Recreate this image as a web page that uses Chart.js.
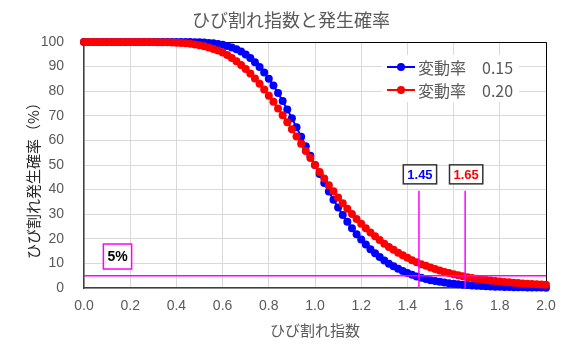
<!DOCTYPE html>
<html lang="ja">
<head>
<meta charset="utf-8">
<title>ひび割れ指数と発生確率</title>
<script src="https://cdn.jsdelivr.net/npm/chart.js@4.4.1/dist/chart.umd.min.js"></script>
<style>
  html, body { margin: 0; padding: 0; background: #fff; }
  #wrap { width: 570px; height: 352px; }
</style>
</head>
<body>
<div id="wrap"><canvas id="crackChart" width="570" height="352"></canvas></div>
<script>
// ひび割れ指数 (x) and 発生確率 (%), step 0.02
const crackIndex = [
  0.00, 0.02, 0.04, 0.06, 0.08, 0.10, 0.12, 0.14, 0.16, 0.18,
  0.20, 0.22, 0.24, 0.26, 0.28, 0.30, 0.32, 0.34, 0.36, 0.38,
  0.40, 0.42, 0.44, 0.46, 0.48, 0.50, 0.52, 0.54, 0.56, 0.58,
  0.60, 0.62, 0.64, 0.66, 0.68, 0.70, 0.72, 0.74, 0.76, 0.78,
  0.80, 0.82, 0.84, 0.86, 0.88, 0.90, 0.92, 0.94, 0.96, 0.98,
  1.00, 1.02, 1.04, 1.06, 1.08, 1.10, 1.12, 1.14, 1.16, 1.18,
  1.20, 1.22, 1.24, 1.26, 1.28, 1.30, 1.32, 1.34, 1.36, 1.38,
  1.40, 1.42, 1.44, 1.46, 1.48, 1.50, 1.52, 1.54, 1.56, 1.58,
  1.60, 1.62, 1.64, 1.66, 1.68, 1.70, 1.72, 1.74, 1.76, 1.78,
  1.80, 1.82, 1.84, 1.86, 1.88, 1.90, 1.92, 1.94, 1.96, 1.98,
  2.00
];

// 変動率 0.15
const prob015 = [
  100, 100, 100, 100, 100, 100, 100, 100, 100, 100,
  100, 100, 100, 100, 100, 100, 100, 100, 100, 100,
  100, 100, 100, 100, 99.9, 99.9, 99.8, 99.6, 99.5, 99.2,
  98.9, 98.4, 97.8, 97.1, 96.1, 94.9, 93.5, 91.8, 89.8, 87.6,
  85.1, 82.3, 79.3, 76.0, 72.6, 69.0, 65.3, 61.5, 57.6, 53.8,
  50.0, 46.3, 42.7, 39.2, 35.9, 32.7, 29.7, 26.9, 24.3, 21.9,
  19.7, 17.7, 15.8, 14.1, 12.6, 11.2, 9.9, 8.8, 7.8, 6.9,
  6.1, 5.4, 4.7, 4.2, 3.7, 3.2, 2.8, 2.5, 2.2, 1.9,
  1.7, 1.5, 1.3, 1.2, 1.0, 0.9, 0.8, 0.7, 0.6, 0.55,
  0.5, 0.4, 0.4, 0.3, 0.3, 0.3, 0.2, 0.2, 0.2, 0.2,
  0.1
];

// 変動率 0.20
const prob020 = [
  100, 100, 100, 100, 100, 100, 100, 100, 100, 100,
  100, 100, 100, 100, 100, 100, 99.9, 99.9, 99.9, 99.8,
  99.7, 99.6, 99.5, 99.3, 99.0, 98.7, 98.3, 97.8, 97.2, 96.5,
  95.7, 94.7, 93.5, 92.2, 90.7, 89.0, 87.2, 85.2, 83.0, 80.7,
  78.2, 75.7, 73.0, 70.2, 67.4, 64.5, 61.6, 58.6, 55.7, 52.8,
  50.0, 47.2, 44.5, 41.8, 39.3, 36.8, 34.5, 32.2, 30.1, 28.0,
  26.1, 24.3, 22.6, 21.0, 19.5, 18.0, 16.7, 15.5, 14.3, 13.3,
  12.3, 11.3, 10.5, 9.7, 9.0, 8.3, 7.7, 7.1, 6.5, 6.1,
  5.6, 5.2, 4.8, 4.4, 4.1, 3.8, 3.5, 3.3, 3.0, 2.8,
  2.6, 2.4, 2.3, 2.1, 2.0, 1.8, 1.7, 1.6, 1.5, 1.4,
  1.3
];

const seriesNames = ['変動率　0.15', '変動率　0.20'];
const seriesColors = ['#0000ff', '#ff0000'];

// 5% threshold and the indices where each curve crosses it
const limitPct = 5;
const limitLabel = '5%';
const crossIndex = [1.45, 1.65];
const crossLabels = ['1.45', '1.65'];
const markTopPct = 39.5;   // top of the vertical marker lines

const GRAY = '#595959';
const CJK = '"Noto Sans CJK JP", "Noto Sans", sans-serif';
const NUM = '"Liberation Sans", Arial, sans-serif';

function toPoints(ys) {
  return crackIndex.map((x, i) => ({ x: x, y: ys[i] }));
}

function boxLabel(ctx, text, cx, cy, h, textColor, borderColor, font) {
  ctx.font = font;
  const w = ctx.measureText(text).width + 8;
  ctx.fillStyle = '#fff';
  ctx.fillRect(cx - w / 2, cy - h / 2, w, h);
  ctx.strokeStyle = borderColor;
  ctx.lineWidth = 1.5;
  ctx.strokeRect(cx - w / 2, cy - h / 2, w, h);
  ctx.fillStyle = textColor;
  ctx.textAlign = 'center';
  ctx.textBaseline = 'middle';
  ctx.fillText(text, cx, cy + 1);
}

// frame lines on top / right, drawn under the curves
const framePlugin = {
  id: 'frame',
  beforeDatasetsDraw(chart) {
    const { ctx, chartArea: a } = chart;
    ctx.save();
    ctx.strokeStyle = '#000';
    ctx.lineWidth = 1;
    ctx.beginPath();
    ctx.moveTo(a.left, a.top + 0.5);
    ctx.lineTo(a.right + 0.5, a.top + 0.5);
    ctx.lineTo(a.right + 0.5, a.bottom);
    ctx.stroke();
    ctx.restore();
  }
};

// 5% line, crossing markers, labels, legend and titles
const overlayPlugin = {
  id: 'overlay',
  afterDatasetsDraw(chart) {
    const { ctx, chartArea: a, scales: { x, y } } = chart;
    ctx.save();

    ctx.strokeStyle = '#ff00ff';
    ctx.lineWidth = 1.5;
    const y5 = y.getPixelForValue(limitPct);
    ctx.beginPath();
    ctx.moveTo(x.getPixelForValue(0), y5);
    ctx.lineTo(x.getPixelForValue(2), y5);
    crossIndex.forEach((v) => {
      const px = x.getPixelForValue(v);
      ctx.moveTo(px, y.getPixelForValue(0));
      ctx.lineTo(px, y.getPixelForValue(markTopPct));
    });
    ctx.stroke();

    crossIndex.forEach((v, i) => {
      boxLabel(ctx, crossLabels[i], x.getPixelForValue(v) + 1, y.getPixelForValue(46.2),
        19, seriesColors[i], '#333', 'bold 13px ' + NUM);
    });
    boxLabel(ctx, limitLabel, x.getPixelForValue(0.145), y.getPixelForValue(12.8),
      25, '#000', '#ff00ff', 'bold 14px ' + NUM);

    // legend
    const lx = a.right - 159, ly = a.top + 25;
    ctx.fillStyle = '#fff';
    ctx.fillRect(lx - 5, ly - 12, 137, 47);
    seriesNames.forEach((name, i) => {
      const yy = ly + i * 23;
      ctx.strokeStyle = seriesColors[i];
      ctx.lineWidth = 2;
      ctx.beginPath();
      ctx.moveTo(lx, yy);
      ctx.lineTo(lx + 28, yy);
      ctx.stroke();
      ctx.fillStyle = seriesColors[i];
      ctx.beginPath();
      ctx.arc(lx + 14, yy, 4, 0, Math.PI * 2);
      ctx.fill();
      ctx.fillStyle = GRAY;
      ctx.font = '16px ' + CJK;
      ctx.textAlign = 'left';
      ctx.textBaseline = 'middle';
      ctx.fillText(name, lx + 31, yy + 1);
    });

    // chart title
    ctx.fillStyle = GRAY;
    ctx.font = '18px ' + CJK;
    ctx.textAlign = 'center';
    ctx.textBaseline = 'middle';
    ctx.fillText('ひび割れ指数と発生確率', 291, 20);

    // y axis title
    ctx.save();
    ctx.translate(33, (a.top + a.bottom) / 2 + 12);
    ctx.rotate(-Math.PI / 2);
    ctx.fillStyle = '#262626';
    ctx.font = '15px ' + CJK;
    ctx.fillText('ひび割れ発生確率（%）', 0, 0);
    ctx.restore();

    ctx.restore();
  }
};

new Chart(document.getElementById('crackChart'), {
  type: 'line',
  data: {
    datasets: [
      {
        label: seriesNames[0],
        data: toPoints(prob015),
        borderColor: seriesColors[0],
        backgroundColor: seriesColors[0],
        borderWidth: 2,
        pointRadius: 4,
        pointBorderWidth: 0,
        pointHoverRadius: 4,
        tension: 0,
        clip: false,
        order: 2
      },
      {
        label: seriesNames[1],
        data: toPoints(prob020),
        borderColor: seriesColors[1],
        backgroundColor: seriesColors[1],
        borderWidth: 2,
        pointRadius: 4,
        pointBorderWidth: 0,
        pointHoverRadius: 4,
        tension: 0,
        clip: false,
        order: 1
      }
    ]
  },
  options: {
    responsive: false,
    animation: false,
    devicePixelRatio: 1,
    layout: { padding: { top: 42, left: 24, right: 24, bottom: 0 } },
    plugins: {
      legend: { display: false },
      tooltip: { enabled: false },
      title: { display: false }
    },
    scales: {
      x: {
        type: 'linear',
        min: 0,
        max: 2,
        afterFit: (s) => { s.height = 64; },
        grid: { color: '#d9d9d9', lineWidth: 1, drawTicks: false },
        border: { color: '#404040', width: 1.5 },
        ticks: {
          stepSize: 0.2,
          autoSkip: false,
          maxRotation: 0,
          padding: 10,
          color: GRAY,
          font: { family: NUM, size: 14 },
          callback: (v) => Number(v).toFixed(1)
        },
        title: {
          display: true,
          text: 'ひび割れ指数',
          color: GRAY,
          font: { family: CJK, size: 15 },
          padding: { top: 0, bottom: 13 }
        }
      },
      y: {
        min: 0,
        max: 100,
        afterFit: (s) => { s.width = 60; },
        grid: { color: '#d9d9d9', lineWidth: 1, drawTicks: false },
        border: { color: '#404040', width: 1.5 },
        ticks: {
          stepSize: 10,
          padding: 20,
          color: GRAY,
          font: { family: NUM, size: 14 }
        }
      }
    }
  },
  plugins: [framePlugin, overlayPlugin]
});
</script>
</body>
</html>
